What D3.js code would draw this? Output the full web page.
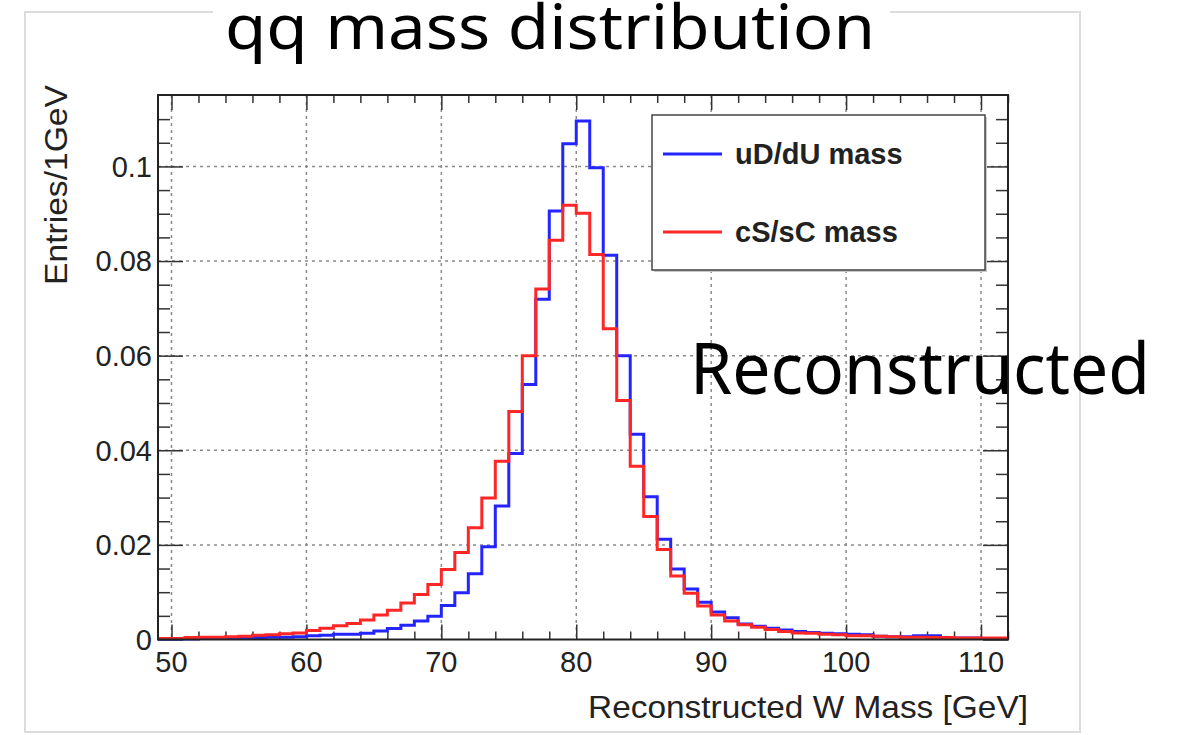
<!DOCTYPE html>
<html>
<head>
<meta charset="utf-8">
<script src="https://cdn.jsdelivr.net/npm/d3@7"></script>
<style>
  body { margin: 0; background: #fff; }
  svg { display: block; }
</style>
</head>
<body>
<div id="chart"></div>
<script>
// bin low edges (1 GeV bins)
var binEdges = d3.range(49, 112);
// uD/dU mass, entries per bin
var blueValues = [
	0.0001, 0.0001, 0.0001, 0.0002, 0.0002, 0.0003, 0.0003, 0.0004, 0.0005, 0.0005, 0.0006,
	0.0008, 0.0009, 0.0011, 0.0011, 0.0013, 0.0018, 0.0023, 0.0030, 0.0039, 0.0049,
	0.0072, 0.0099, 0.0139, 0.0196, 0.0282, 0.0393, 0.0539, 0.0719, 0.0906, 0.1048,
	0.1096, 0.0997, 0.0812, 0.0600, 0.0434, 0.0302, 0.0212, 0.0149, 0.0107, 0.0079,
	0.0058, 0.0046, 0.0033, 0.0028, 0.0024, 0.0020, 0.0017, 0.0015, 0.0013, 0.0012,
	0.0011, 0.0010, 0.0007, 0.0006, 0.0006, 0.0008, 0.0008, 0.0004, 0.0003, 0.0003,
	0.0002, 0.0002
];
// cS/sC mass
var redValues = [
	0.0002, 0.0002, 0.0004, 0.0005, 0.0005, 0.0006, 0.0007, 0.0009, 0.0010, 0.0012, 0.0014,
	0.0019, 0.0024, 0.0029, 0.0034, 0.0041, 0.0052, 0.0062, 0.0077, 0.0095, 0.0116,
	0.0148, 0.0184, 0.0236, 0.0299, 0.0377, 0.0482, 0.0600, 0.0741, 0.0844, 0.0918,
	0.0901, 0.0814, 0.0657, 0.0505, 0.0366, 0.0260, 0.0190, 0.0134, 0.0098, 0.0071,
	0.0052, 0.0039, 0.0031, 0.0026, 0.0021, 0.0017, 0.0014, 0.0013, 0.0011, 0.0010,
	0.0008, 0.0008, 0.0007, 0.0006, 0.0005, 0.0005, 0.0004, 0.0004, 0.0003, 0.0003,
	0.0003, 0.0003
];
var seriesNames = ['uD/dU mass', 'cS/sC mass'];
var xTicks = [50, 60, 70, 80, 90, 100, 110];
var yTicks = [0, 0.02, 0.04, 0.06, 0.08, 0.1];
var yTickLabels = ['0', '0.02', '0.04', '0.06', '0.08', '0.1'];

var W = 1179, H = 735;
var frame = { left: 158, right: 1008, top: 95, bottom: 639.5 };

var svg = d3.select('#chart').append('svg')
	.attr('width', W)
	.attr('height', H)
	.style('font-family', 'Liberation Sans, Arial, sans-serif');

// slide card
svg.append('rect')
	.attr('x', 25).attr('y', 12)
	.attr('width', 1055).attr('height', 720)
	.attr('fill', '#fff')
	.attr('stroke', '#dcdcdc')
	.attr('stroke-width', 2);

var x = d3.scaleLinear().domain([49, 112]).range([frame.left, frame.right]);
var y = d3.scaleLinear().domain([0, 0.1151]).range([frame.bottom, frame.top]);

var xMinor = d3.range(50, 113, 2).filter(function (v) { return v % 10 !== 0; });
var yMinor = d3.range(0.005, 0.115, 0.005).filter(function (v) { return Math.abs(v / 0.02 - Math.round(v / 0.02)) > 0.01; });

// grid
svg.append('g').selectAll('line')
	.data(xTicks)
	.enter().append('line')
	.attr('x1', function (d) { return x(d); })
	.attr('x2', function (d) { return x(d); })
	.attr('y1', frame.top).attr('y2', frame.bottom)
	.attr('stroke', '#8a8a8a').attr('stroke-width', 1.5).attr('stroke-dasharray', '3,4');
svg.append('g').selectAll('line')
	.data(yTicks.slice(1))
	.enter().append('line')
	.attr('y1', function (d) { return y(d); })
	.attr('y2', function (d) { return y(d); })
	.attr('x1', frame.left).attr('x2', frame.right)
	.attr('stroke', '#8a8a8a').attr('stroke-width', 1.5).attr('stroke-dasharray', '3,4');

// ticks on all four sides, pointing inwards
function tickAxis(axis, values, size, transform) {
	var g = svg.append('g')
		.attr('transform', transform)
		.call(axis.tickValues(values).tickSize(size).tickFormat(''));
	g.select('.domain').remove();
	g.selectAll('line').attr('stroke', '#333').attr('stroke-width', 1.5);
}
tickAxis(d3.axisBottom(x), xTicks, -15, 'translate(0,' + frame.bottom + ')');
tickAxis(d3.axisBottom(x), xMinor, -8, 'translate(0,' + frame.bottom + ')');
tickAxis(d3.axisTop(x), xTicks, -15, 'translate(0,' + frame.top + ')');
tickAxis(d3.axisTop(x), xMinor, -8, 'translate(0,' + frame.top + ')');
tickAxis(d3.axisLeft(y), yTicks, -25, 'translate(' + frame.left + ',0)');
tickAxis(d3.axisLeft(y), yMinor, -12, 'translate(' + frame.left + ',0)');
tickAxis(d3.axisRight(y), yTicks, -25, 'translate(' + frame.right + ',0)');
tickAxis(d3.axisRight(y), yMinor, -12, 'translate(' + frame.right + ',0)');

// tick labels
svg.append('g').selectAll('text')
	.data(xTicks)
	.enter().append('text')
	.attr('x', function (d) { return x(d); })
	.attr('y', 672)
	.attr('text-anchor', 'middle')
	.attr('font-size', 29)
	.attr('fill', '#222')
	.text(function (d) { return d; });
svg.append('g').selectAll('text')
	.data(yTicks)
	.enter().append('text')
	.attr('x', 152)
	.attr('y', function (d) { return y(d); })
	.attr('dy', '0.36em')
	.attr('text-anchor', 'end')
	.attr('font-size', 29)
	.attr('fill', '#222')
	.text(function (d, i) { return yTickLabels[i]; });

// axis titles
svg.append('text')
	.attr('x', 1028).attr('y', 718)
	.attr('text-anchor', 'end')
	.attr('font-size', 32)
	.attr('fill', '#222')
	.attr('textLength', 440)
	.attr('lengthAdjust', 'spacingAndGlyphs')
	.text('Reconstructed W Mass [GeV]');
svg.append('text')
	.attr('transform', 'translate(67,85) rotate(-90)')
	.attr('text-anchor', 'end')
	.attr('font-size', 32)
	.attr('fill', '#222')
	.attr('textLength', 200)
	.attr('lengthAdjust', 'spacingAndGlyphs')
	.text('Entries/1GeV');

// histograms as step outlines
var line = d3.line()
	.x(function (d) { return x(d[0]); })
	.y(function (d) { return y(d[1]); })
	.curve(d3.curveStepAfter);
function stepPoints(values) {
	var pts = binEdges.map(function (e, i) { return [e, values[i]]; });
	pts.push([binEdges[binEdges.length - 1] + 1, values[values.length - 1]]);
	return pts;
}
var colors = ['#2424ff', '#ff2626'];
[blueValues, redValues].forEach(function (vals, i) {
	svg.append('path')
		.datum(stepPoints(vals))
		.attr('d', line)
		.attr('fill', 'none')
		.attr('stroke', colors[i])
		.attr('stroke-width', 3);
});

// frame
svg.append('rect')
	.attr('x', frame.left).attr('y', frame.top)
	.attr('width', frame.right - frame.left)
	.attr('height', frame.bottom - frame.top)
	.attr('fill', 'none')
	.attr('stroke', '#222')
	.attr('stroke-width', 2);

// legend
var legend = svg.append('g');
legend.append('rect')
	.attr('x', 654).attr('y', 117)
	.attr('width', 333).attr('height', 155)
	.attr('fill', '#c8c8c8');
legend.append('rect')
	.attr('x', 652).attr('y', 115)
	.attr('width', 333).attr('height', 155)
	.attr('fill', '#fff')
	.attr('stroke', '#444')
	.attr('stroke-width', 1.5);
var legendY = [154, 232];
seriesNames.forEach(function (name, i) {
	legend.append('line')
		.attr('x1', 663).attr('x2', 722)
		.attr('y1', legendY[i]).attr('y2', legendY[i])
		.attr('stroke', colors[i])
		.attr('stroke-width', 3);
	legend.append('text')
		.attr('x', 735).attr('y', legendY[i])
		.attr('dy', '0.36em')
		.attr('font-size', 29)
		.attr('font-weight', 'bold')
		.attr('fill', '#222')
		.text(name);
});

// slide overlays
svg.append('rect')
	.attr('x', 213).attr('y', 0)
	.attr('width', 677).attr('height', 22)
	.attr('fill', '#fff');
svg.append('text')
	.attr('x', 225).attr('y', 49)
	.attr('font-family', 'Noto Sans, sans-serif')
	.attr('font-size', 62)
	.attr('fill', '#000')
	.attr('textLength', 650)
	.attr('lengthAdjust', 'spacingAndGlyphs')
	.text('qq mass distribution');
svg.append('text')
	.attr('x', 690).attr('y', 394)
	.attr('font-family', 'Noto Sans, sans-serif')
	.attr('font-size', 72)
	.attr('fill', '#000')
	.attr('textLength', 460)
	.attr('lengthAdjust', 'spacingAndGlyphs')
	.text('Reconstructed');
</script>
</body>
</html>
